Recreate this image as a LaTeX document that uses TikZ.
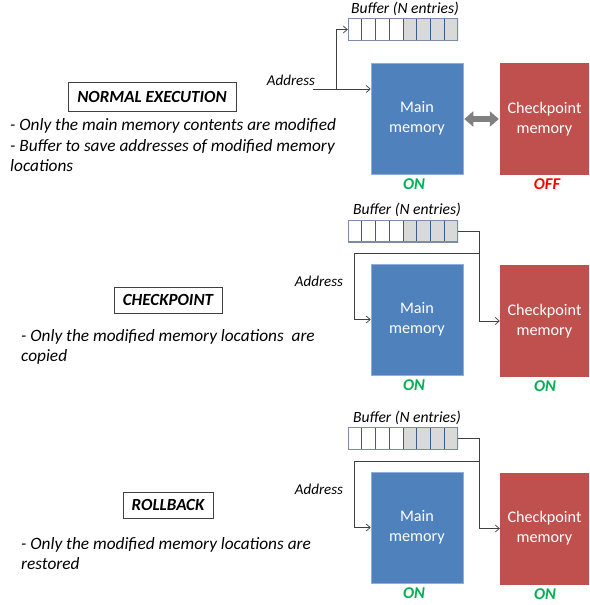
\documentclass[tikz,border=0pt]{standalone}
\usepackage{fontspec}
\setmainfont{Carlito}
\usetikzlibrary{arrows.meta,calc}
\definecolor{mblue}{HTML}{4F81BD}
\definecolor{mblueedge}{HTML}{8FAEDB}
\definecolor{cred}{HTML}{C0504D}
\definecolor{ongreen}{HTML}{00B050}
\definecolor{offred}{HTML}{FF0000}
\definecolor{bufgray}{HTML}{D9D9D9}
\definecolor{bufline}{HTML}{385D8A}
\definecolor{bufborder}{HTML}{7A8CA8}
\definecolor{connc}{HTML}{404040}
\definecolor{dblgray}{HTML}{808080}
\tikzset{
  mainmem/.style={fill=mblue, draw=mblueedge, line width=0.6pt, text=white, minimum width=92pt, minimum height=111pt, inner sep=0pt, align=center, font=\fontsize{16.2}{20}\selectfont},
  ckmem/.style={fill=cred, text=white, minimum width=89pt, minimum height=112pt, inner sep=0pt, align=center, font=\fontsize{16.2}{20}\selectfont},
  bufbox/.style={minimum width=110pt, minimum height=22pt, inner sep=0pt, fill=white,
    path picture={
      \fill[bufgray] (path picture bounding box.north) rectangle (path picture bounding box.south east);
      \foreach \i in {1,...,7}
        \draw[bufline, line width=0.6pt] ($(path picture bounding box.north west)!\i/8!(path picture bounding box.north east)$) -- ($(path picture bounding box.south west)!\i/8!(path picture bounding box.south east)$);
      \draw[bufborder, line width=1.2pt] (path picture bounding box.north west) rectangle (path picture bounding box.south east);
    }},
  buflabel/.style={font=\fontsize{15.6}{18}\selectfont\itshape, inner sep=0pt},
  addrlabel/.style={font=\fontsize{15}{18}\selectfont\itshape, inner sep=0pt},
  titlebox/.style={draw=connc, line width=0.7pt, inner sep=0pt, font=\fontsize{17}{20}\selectfont\bfseries\itshape},
  desc/.style={anchor=base west, inner sep=0pt, font=\fontsize{17.3}{20}\selectfont\itshape},
  onlabel/.style={inner sep=0pt, text=ongreen, font=\fontsize{16.5}{19}\selectfont\bfseries\itshape},
  offlabel/.style={inner sep=0pt, text=offred, font=\fontsize{16.5}{19}\selectfont\bfseries\itshape},
  conn/.style={draw=connc, line width=0.7pt, -{Straight Barb[length=4pt,width=7pt]}},
  dblarrow/.style={draw=dblgray, line width=6pt, {Triangle[length=9pt,width=15pt]}-{Triangle[length=9pt,width=15pt]}},
}
\begin{document}
\begin{tikzpicture}[x=1pt,y=-1pt]
\useasboundingbox (0,0) rectangle (589,605);

% ---------- Panel 1: NORMAL EXECUTION ----------
\node[buflabel] (bl1) at (405,9) {Buffer (N entries)};
\node[bufbox] (buf1) at (403,29.5) {};
\node[mainmem] (main1) at (417,118.5) {Main\\memory};
\node[ckmem] (ck1) at (544.5,119) {Checkpoint\\memory};
\node[addrlabel] (ad1) at (291,80) {Address};
\coordinate (a1) at (313,89);
\coordinate (j1) at (336,89);
\draw[conn] (a1) -- (a1 -| main1.west);
\draw[conn] (j1) |- (buf1.west);
\draw[dblarrow] ($(main1.east)+(1,0.5)$) -- ($(main1.east -| ck1.west)+(-1,0.5)$);
\node[onlabel] (on1) at (414,184) {ON};
\node[offlabel] (off1) at (547,184) {OFF};
\node[titlebox, minimum width=168pt, minimum height=29pt] (t1) at (152,96.5) {NORMAL EXECUTION};
\node[desc] (d11) at (10,130.5) {- Only the main memory contents are modified};
\node[desc] (d12) at (10,151) {- Buffer to save addresses of modified memory};
\node[desc] (d13) at (10,171.5) {locations};

% ---------- Panel 2: CHECKPOINT ----------
\node[buflabel] (bl2) at (407,210) {Buffer (N entries)};
\node[bufbox] (buf2) at (403,231) {};
\node[mainmem] (main2) at (417,319.5) {Main\\memory};
\node[ckmem] (ck2) at (544.5,321) {Checkpoint\\memory};
\node[addrlabel] (ad2) at (319,281) {Address};
\coordinate (k2) at (479,253);
\coordinate (t2) at (354,253);
\draw[conn] (buf2.east) -- ++(21,0) |- (ck2.west);
\draw[conn] (k2) -- (t2) |- (main2.west);
\node[onlabel] (on2) at (414,385) {ON};
\node[onlabel] (on2b) at (545,386.5) {ON};
\node[titlebox, minimum width=108pt, minimum height=26pt] (t2b) at (168,300) {CHECKPOINT};
\node[desc] (d21) at (21,341.5) {- Only the modified memory locations\ \ are};
\node[desc] (d22) at (21,361.5) {copied};

% ---------- Panel 3: ROLLBACK ----------
\node[buflabel] (bl3) at (407,418) {Buffer (N entries)};
\node[bufbox] (buf3) at (403,438.5) {};
\node[mainmem] (main3) at (417,527.5) {Main\\memory};
\node[ckmem] (ck3) at (544.5,528.5) {Checkpoint\\memory};
\node[addrlabel] (ad3) at (319,489) {Address};
\coordinate (k3) at (479,461);
\coordinate (t3) at (354,461);
\draw[conn] (buf3.east) -- ++(21,0) |- (ck3.west);
\draw[conn] (k3) -- (t3) |- (main3.west);
\node[onlabel] (on3) at (414,593) {ON};
\node[onlabel] (on3b) at (545,594) {ON};
\node[titlebox, minimum width=90pt, minimum height=26pt] (t3b) at (168,505) {ROLLBACK};
\node[desc] (d31) at (21,549.5) {- Only the modified memory locations are};
\node[desc] (d32) at (21,569.5) {restored};
\end{tikzpicture}
\end{document}
